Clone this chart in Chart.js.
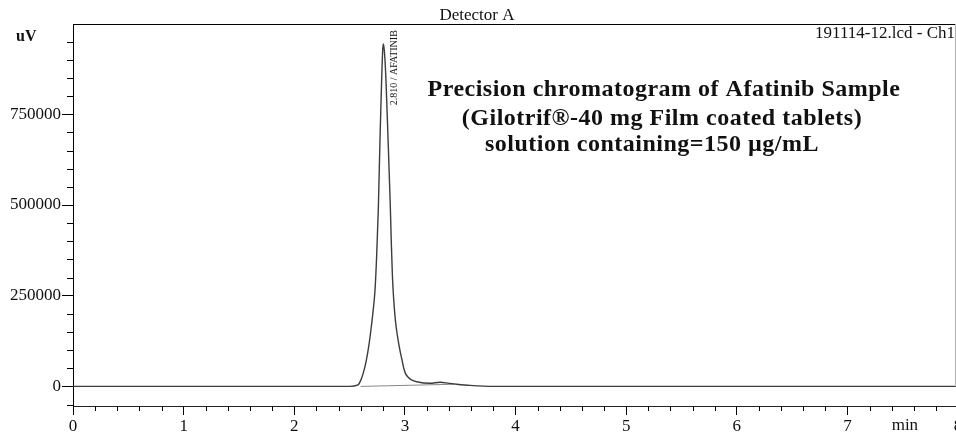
<!DOCTYPE html>
<html>
<head>
<meta charset="utf-8">
<title>Detector A</title>
<script src="https://cdn.jsdelivr.net/npm/chart.js@4.4.1/dist/chart.umd.min.js"></script>
<style>
  body { margin: 0; background: #fff; }
  #wrap { width: 956px; height: 432px; overflow: hidden; }
</style>
</head>
<body>
<div id="wrap"><canvas id="chromChart" width="960" height="432"></canvas></div>
<script>
// retention time (min) and response (uV)
const signalTime = [0, 2.50, 2.576, 2.60, 2.625, 2.65, 2.67, 2.69, 2.71, 2.73, 2.745, 2.76, 2.775, 2.79, 2.80, 2.807,
    2.817, 2.829, 2.845, 2.868, 2.878, 2.888, 2.90, 2.915, 2.935, 2.955, 2.974, 2.99, 3.005, 3.03, 3.06, 3.107,
    3.227, 3.318, 3.40, 3.469, 3.589, 3.80, 8];
const signalValue = [0, 0, 4000, 16000, 38000, 70000, 104000, 148000, 200000, 265000, 360000, 490000, 680000, 845000, 930000, 944000,
    915000, 845000, 707000, 500000, 390000, 300000, 235000, 180000, 135000, 100000, 73000, 50000, 36000, 25000, 18000, 13000,
    8800, 11600, 8500, 6100, 2800, 0, 0];

// integration baseline drawn under the peak
const baselineTime = [2.60, 3.45];
const baselineValue = [0, 6000];

const xTicks = [0, 1, 2, 3, 4, 5, 6, 7, 8];
const yTicks = [0, 250000, 500000, 750000];

const peakTime = 2.805;
const peakLabel = '2.810 / AFATINIB';
const titleText = 'Detector A';
const fileText = '191114-12.lcd - Ch1';
const yUnit = 'uV';
const xUnit = 'min';
const noteLines = [
    'Precision chromatogram of Afatinib Sample',
    '(Gilotrif\u00AE-40 mg Film coated tablets)',
    'solution containing=150 \u00B5g/mL'
];
const noteCenter = [5.342, 5.324, 5.234]; // in minutes, on the x scale

const serif = '"Liberation Serif", "Times New Roman", serif';

// small tick marks + all the loose texts
const extrasPlugin = {
    id: 'extras',
    afterDraw(chart) {
        const ctx = chart.ctx;
        const x = chart.scales.x;
        const y = chart.scales.y;
        const area = chart.chartArea;
        ctx.save();

        // frame top and right
        ctx.strokeStyle = '#000';
        ctx.lineWidth = 1;
        ctx.beginPath();
        ctx.moveTo(area.left, area.top + 0.5);
        ctx.lineTo(area.right, area.top + 0.5);
        ctx.stroke();
        ctx.strokeStyle = '#b0b0b0';
        ctx.beginPath();
        ctx.moveTo(955.5, area.top);
        ctx.lineTo(955.5, y.getPixelForValue(0));
        ctx.stroke();

        // minor ticks
        ctx.strokeStyle = '#000';
        ctx.beginPath();
        for (let i = 0; i <= 40; i++) {
            if (i % 5 === 0) continue;
            const px = Math.round(x.getPixelForValue(i / 5)) + 0.5;
            ctx.moveTo(px, area.bottom);
            ctx.lineTo(px, area.bottom + 5);
        }
        for (let i = -1; i <= 19; i++) {
            if (i % 5 === 0) continue;
            const py = Math.round(y.getPixelForValue(i * 50000)) + 0.5;
            ctx.moveTo(area.left - 6, py);
            ctx.lineTo(area.left, py);
        }
        ctx.stroke();

        ctx.fillStyle = '#111';
        ctx.font = '17px ' + serif;
        ctx.textBaseline = 'alphabetic';
        ctx.textAlign = 'center';
        ctx.fillText(titleText, 477, 20);
        ctx.fillText(xUnit, x.getPixelForValue(7.52), 430);
        ctx.textAlign = 'right';
        ctx.fillText(fileText, 955, 38);
        ctx.textAlign = 'left';
        ctx.font = 'bold 16px ' + serif;
        ctx.fillText(yUnit, 16, 41);

        // note in the plot
        ctx.textAlign = 'center';
        ctx.font = 'bold 24px ' + serif;
        ctx.letterSpacing = '0.5px';
        const noteY = [96, 125, 151];
        noteLines.forEach((line, i) => {
            ctx.fillText(line, x.getPixelForValue(noteCenter[i]), noteY[i]);
        });
        ctx.letterSpacing = '0px';

        // peak name, vertical
        ctx.font = '10px ' + serif;
        ctx.translate(x.getPixelForValue(peakTime) + 13.5, y.getPixelForValue(775000));
        ctx.rotate(-Math.PI / 2);
        ctx.textAlign = 'left';
        ctx.fillText(peakLabel, 0, 0);
        ctx.restore();
    }
};

const ctx = document.getElementById('chromChart').getContext('2d');
const chromChart = new Chart(ctx, {
    type: 'line',
    data: {
        datasets: [
            {
                data: signalTime.map((t, i) => ({x: t, y: signalValue[i]})),
                borderColor: '#3c3c3c',
                borderWidth: 1.4,
                pointRadius: 0,
                cubicInterpolationMode: 'monotone',
                fill: false
            },
            {
                data: baselineTime.map((t, i) => ({x: t, y: baselineValue[i]})),
                borderColor: '#888',
                borderWidth: 1,
                pointRadius: 0,
                fill: false
            }
        ]
    },
    options: {
        responsive: false,
        animation: false,
        devicePixelRatio: 1,
        layout: { padding: { top: 24, right: 2, left: 0, bottom: 0 } },
        plugins: {
            legend: { display: false },
            tooltip: { enabled: false }
        },
        scales: {
            x: {
                type: 'linear',
                min: 0,
                max: 8,
                afterFit: s => { s.height = 26; s.paddingLeft = 0; s.paddingRight = 0; },
                afterBuildTicks: s => { s.ticks = xTicks.map(v => ({value: v})); },
                ticks: {
                    maxRotation: 0,
                    autoSkip: false,
                    padding: 1,
                    color: '#111',
                    font: { family: serif, size: 17 }
                },
                grid: { drawOnChartArea: false, tickLength: 9, tickColor: '#000' },
                border: { color: '#222', width: 1 }
            },
            y: {
                min: -54000,
                max: 999000,
                afterFit: s => { s.width = 73; },
                afterBuildTicks: s => { s.ticks = yTicks.map(v => ({value: v})); },
                ticks: {
                    padding: 1,
                    color: '#111',
                    font: { family: serif, size: 17 },
                    callback: v => String(v)
                },
                grid: { drawOnChartArea: false, tickLength: 11, tickColor: '#000' },
                border: { color: '#000', width: 1 }
            }
        }
    },
    plugins: [extrasPlugin]
});
</script>
</body>
</html>
